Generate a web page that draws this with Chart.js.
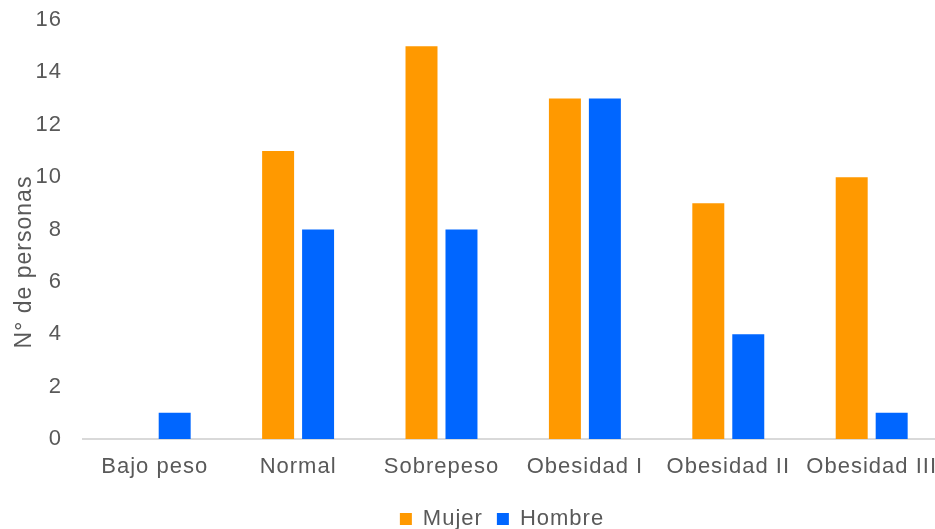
<!DOCTYPE html>
<html>
<head>
<meta charset="utf-8">
<script src="https://cdn.jsdelivr.net/npm/chart.js@4/dist/chart.umd.min.js"></script>
<style>
  html, body { margin: 0; padding: 0; background: #fff; overflow: hidden; }
  #wrap { position: relative; width: 944px; height: 540px; }
</style>
</head>
<body>
<div id="wrap"><canvas id="c"></canvas></div>
<script>
// Personas por categoría de IMC y sexo
const categorias = ['Bajo peso', 'Normal', 'Sobrepeso', 'Obesidad I', 'Obesidad II', 'Obesidad III'];
const mujer = [0, 11, 15, 13, 9, 10];
const hombre = [1, 8, 8, 13, 4, 1];
const tituloEjeY = 'N° de personas';

const FONT = '"Liberation Sans", Arial, sans-serif';
const GRIS = '#595959';

// Texto algo espaciado en todo el lienzo
const espaciado = {
  id: 'espaciado',
  beforeUpdate(chart) { chart.ctx.letterSpacing = '1px'; },
  beforeDraw(chart) { chart.ctx.letterSpacing = '1px'; },
  // desplaza la leyenda hacia la derecha
  afterLayout(chart) {
    const lg = chart.legend;
    if (lg) { lg.left += 30; lg.right += 30; }
  }
};

// Título vertical del eje Y
const tituloY = {
  id: 'tituloY',
  afterDraw(chart) {
    const ctx = chart.ctx;
    ctx.save();
    ctx.letterSpacing = '1px';
    ctx.translate(25, 262);
    ctx.rotate(-Math.PI / 2);
    ctx.font = '23px ' + FONT;
    ctx.fillStyle = GRIS;
    ctx.textAlign = 'center';
    ctx.textBaseline = 'middle';
    ctx.fillText(tituloEjeY, 0, 0);
    ctx.restore();
  }
};

new Chart(document.getElementById('c'), {
  type: 'bar',
  data: {
    labels: categorias,
    datasets: [
      { label: 'Mujer', data: mujer, backgroundColor: '#FF9900' },
      { label: 'Hombre', data: hombre, backgroundColor: '#0066FF' }
    ]
  },
  options: {
    responsive: true,
    maintainAspectRatio: false,
    animation: false,
    layout: { padding: { top: 20, right: 0, left: 0, bottom: 0 } },
    datasets: { bar: { categoryPercentage: 0.5575, barPercentage: 0.8 } },
    plugins: {
      tooltip: { enabled: false },
      legend: {
        position: 'bottom',
        labels: {
          boxWidth: 12, boxHeight: 12, padding: 14,
          color: GRIS, font: { family: FONT, size: 22 }
        }
      }
    },
    scales: {
      x: {
        grid: { display: false },
        border: { display: true, color: '#d9d9d9', width: 2 },
        ticks: { color: GRIS, font: { family: FONT, size: 22 }, padding: 7, maxRotation: 0, autoSkip: false },
        afterFit(s) { s.height = 55; }
      },
      y: {
        min: 0, max: 16,
        grid: { display: false, drawTicks: true, tickLength: 21 },
        border: { display: false },
        ticks: { stepSize: 2, color: GRIS, font: { family: FONT, size: 22 }, padding: 0 },
        afterFit(s) { s.width = 83; }
      }
    }
  },
  plugins: [espaciado, tituloY]
});
</script>
</body>
</html>
